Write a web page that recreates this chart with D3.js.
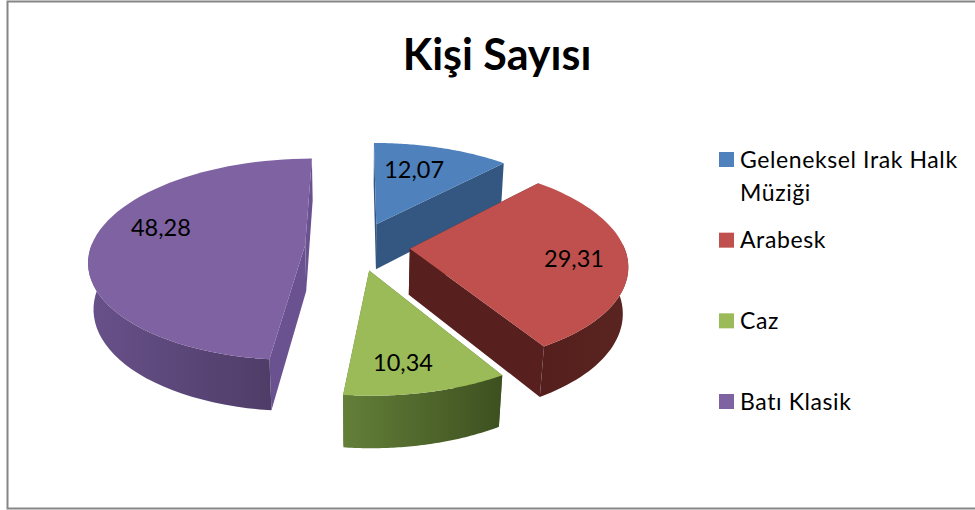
<!DOCTYPE html>
<html>
<head>
<meta charset="utf-8">
<script src="https://cdn.jsdelivr.net/npm/d3@7"></script>
<style>
  html, body { margin: 0; padding: 0; background: #fff; }
  svg { display: block; }
  text { font-family: Lato, "Open Sans", sans-serif; fill: #000; }
</style>
</head>
<body>
<script>
const chartTitle = "Kişi Sayısı";
const categories = ["Geleneksel Irak Halk Müziği", "Arabesk", "Caz", "Batı Klasik"];
const values = [12.07, 29.31, 10.34, 48.28];
const valueLabels = ["12,07", "29,31", "10,34", "48,28"];

const topColors = ["#4f81bd", "#c0504d", "#9bbb59", "#7e62a1"];
const wallLight = ["#345a85", "#551f1d", "#637f38", "#68518a"];
const wallDark = ["#2c4c72", "#5a2421", "#3d5020", "#4f3d68"];
const radialColors = ["#335781", "#571f1d", "#5a7232", "#6a5290"];

const width = 975,
    height = 510;

// pie in 3d: unit circle on the floor, then a small perspective
const cx = 357.5, cy = 246,
    radiusX = 214, radiusY = 99,
    depth = 47, explode = 0.245,
    persp = 0.146, perspZ = 0.02;

const project = (u, v, z) => {
    const w = 1 + persp * v + perspZ * z;
    return [cx + radiusX * u / w, cy + (-radiusY * v + depth * z) / w];
};

const svg = d3.select('body').append('svg')
    .attr('width', width)
    .attr('height', height);

const defs = svg.append('defs');

// frame
svg.append('rect')
    .attr('x', 7.5).attr('y', 1.5)
    .attr('width', width + 10).attr('height', 507)
    .attr('fill', '#fff')
    .attr('stroke', '#868686')
    .attr('stroke-width', 2);

svg.append('text')
    .attr('x', 497).attr('y', 70)
    .attr('text-anchor', 'middle')
    .style('font-size', '43px')
    .style('font-weight', 700)
    .text(chartTitle);

const arcs = d3.pie().sort(null).value(d => d).startAngle(0).endAngle(2 * Math.PI)(values);
const line = d3.line();

const slices = arcs.map((d, i) => {
    const mid = (d.startAngle + d.endAngle) / 2;
    const ox = explode * Math.sin(mid),
        oy = explode * Math.cos(mid);
    const at = (a, r, z) => project(ox + r * Math.sin(a), oy + r * Math.cos(a), z);
    const steps = d3.range(0, 61).map(k => d.startAngle + (d.endAngle - d.startAngle) * k / 60);
    return { i, mid, at, steps, start: d.startAngle, end: d.endAngle };
});

// blue is furthest back, green closest
const drawOrder = [0, 3, 1, 2];

drawOrder.forEach(idx => {
    const s = slices[idx];
    const g = svg.append('g').attr('class', 'slice');

    [s.start, s.end].forEach(a => {
        g.append('path')
            .attr('d', line([s.at(a, 0, 0), s.at(a, 1, 0), s.at(a, 1, 1), s.at(a, 0, 1)]) + 'Z')
            .attr('fill', radialColors[idx]);
    });

    // outer wall, only the part that faces us
    const front = s.steps.filter(a => Math.cos(a) < 0.05);
    if (front.length) {
        const xs = front.map(a => s.at(a, 1, 0)[0]);
        const grad = defs.append('linearGradient')
            .attr('id', `wall${idx}`)
            .attr('gradientUnits', 'userSpaceOnUse')
            .attr('x1', d3.min(xs)).attr('x2', d3.max(xs))
            .attr('y1', 0).attr('y2', 0);
        grad.append('stop').attr('offset', 0).attr('stop-color', wallLight[idx]);
        grad.append('stop').attr('offset', 1).attr('stop-color', wallDark[idx]);

        g.append('path')
            .attr('d', line(front.map(a => s.at(a, 1, 0)).concat(front.slice().reverse().map(a => s.at(a, 1, 1)))) + 'Z')
            .attr('fill', `url(#wall${idx})`);
    }

    g.append('path')
        .attr('d', line([s.at(s.start, 0, 0)].concat(s.steps.map(a => s.at(a, 1, 0)))) + 'Z')
        .attr('fill', topColors[idx]);
});

// Excel's best-fit labels are not on the mid angle, so nudge them
const labelNudge = [[-11, 2], [8, 2], [-6, 9], [8, -13]];
slices.forEach(s => {
    const p = s.at(s.mid, 0.72, 0);
    svg.append('text')
        .attr('x', p[0] + labelNudge[s.i][0])
        .attr('y', p[1] + labelNudge[s.i][1])
        .attr('text-anchor', 'middle')
        .attr('dy', '0.35em')
        .style('font-size', '23.5px')
        .text(valueLabels[s.i]);
});

// legend, first entry wraps on two lines
const legendLines = [["Geleneksel Irak Halk", "Müziği"], [categories[1]], [categories[2]], [categories[3]]];
const legendRows = d3.scaleLinear().domain([0, 3]).range([159.5, 401.5]);

categories.forEach((c, i) => {
    const y = legendRows(i);
    svg.append('rect')
        .attr('x', 719).attr('y', y - 7.5)
        .attr('width', 15).attr('height', 15)
        .attr('fill', topColors[i]);
    const t = svg.append('text')
        .attr('x', 740).attr('y', y + 8)
        .style('font-size', '23px')
        .style('letter-spacing', '0.6px');
    legendLines[i].forEach((l, k) => {
        t.append('tspan').attr('x', 740).attr('dy', k ? 33 : 0).text(l);
    });
});
</script>
</body>
</html>
